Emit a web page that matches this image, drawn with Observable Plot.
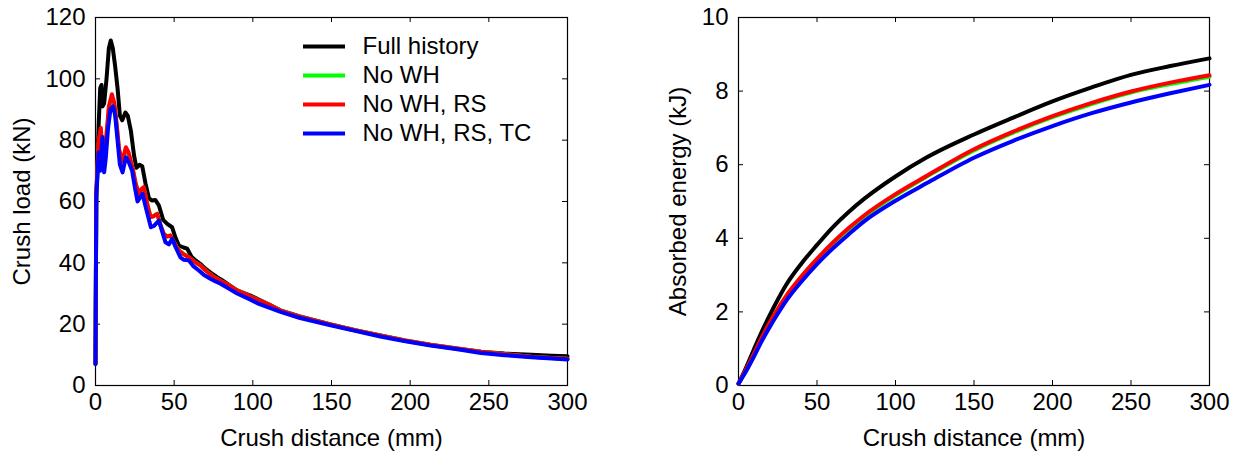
<!DOCTYPE html>
<html><head><meta charset="utf-8">
<script src="https://cdn.jsdelivr.net/npm/d3@7"></script>
<script src="https://cdn.jsdelivr.net/npm/@observablehq/plot@0.6"></script>
<style>
body{margin:0;background:#fff;}
#wrap{display:flex;width:1239px;height:455px;}
svg{font-family:"Liberation Sans",Arial,sans-serif;}
</style></head><body><div id="wrap"></div>
<script>
const seriesNames = ["Full history","No WH","No WH, RS","No WH, RS, TC"];
const seriesColors = ["#000000","#00ff00","#ff0000","#0000ff"];
const xTicks = [0,50,100,150,200,250,300];
const loadTicks = [0,20,40,60,80,100,120];
const energyTicks = [0,2,4,6,8,10];
const xLabel = "Crush distance (mm)";
const loadLabel = "Crush load (kN)";
const energyLabel = "Absorbed energy (kJ)";

// Crush load (kN) vs crush distance (mm)
const loadFullX = [0,0.5,1,2,3,3.8,4.5,5.5,7,8.5,9.7,11,12.5,14,15.5,17,19,20.5,22.5,24.5,26,28,29.7,31.8,34,36,38,40.3,43,45.6,48.7,51,53,56,58.3,61,63.6,67,70,74,77.3,80,83.7,90,98.5,110,117.6,130,149.4,165,181,197,213,230,245,260,277,290,300];
const loadFullY = [7,60,68,85,97,98,91,92,100,110,112.5,110,104,97,88,86.5,89,88,83,75,71,72,71.5,65.8,61,60.3,60.5,58.7,54,52.7,51.6,48,45.6,45,44.6,42,40.8,39.5,38,36.5,35.3,34.5,33.2,31,29.3,26.5,24.5,22.5,19.9,18,16.3,14.6,13.2,12,11,10.4,10,9.7,9.5];
const loadRSX = [0,0.5,1,2,3.4,4.5,5.5,7,8.5,10.4,12,13.5,15,17,19.3,21,23.5,25.5,27.5,29,30.7,33,35,37,39.2,41.5,43.4,45.5,47.7,50,53,56,59.3,63,66.8,70,75,80,85,90,98.5,110,117.6,130,149.4,165,181,197,213,230,245,260,277,290,300];
const loadWHY = [7,62,67,79,83,74.5,73.5,81,90,93.5,91,84,76.5,72.5,77,75.5,71,65.5,62.3,63.7,64.4,58.8,55,55.3,56,52,49.5,48.6,48.9,46.5,44.1,42.9,41.8,40.3,39.1,37.5,35.5,34,32.6,31,29,26.5,24.4,22.4,19.9,18,16.3,14.7,13.3,12.1,11,10.2,9.4,9,8.7];
const loadRSY = [7,63,68,80,84,75,74,82,91,95,92,85,77,73,77.7,76,71.2,66,62.5,64,64.7,59,54.9,55.2,56,52,49.4,48.6,48.9,46.5,44,42.8,41.8,40.3,39.1,37.5,35.5,34,32.6,31,29,26.5,24.4,22.4,19.9,18,16.3,14.7,13.3,12.1,11,10.2,9.4,9,8.7];
const loadTCX = [0,0.5,1,2,3,4.4,5.5,6.5,8,9.5,11.2,12.5,14,15.5,17.2,19.3,21,23.3,25,26.7,28,29.9,32,35.2,37,40.3,42.5,44.5,46.6,48.8,51,54,56,59.3,62,65.7,69,73,76,79.5,85,90,98.5,103,117.6,130,149.4,165,181,197,213,230,245,260,277,290,300];
const loadTCY = [7,62,66,76,70,81,69.5,74,84,90,91,88,80,72,69.5,74.4,73,70,64.7,60,61,62.5,58,51.6,52,53.8,50,46.7,46,47.8,45,41.8,41,40.8,39,37.5,36,34.8,34,33.2,31.5,30,28,26.8,24,22,19.6,17.8,16,14.4,13,11.8,10.6,9.9,9.2,8.8,8.5];

// Absorbed energy (kJ) vs crush distance (mm)
const energyX = [0,5,10,15,20,25,30,40,50,60,70,80,100,120,150,175,200,225,250,275,300];
const energyFull = [0.05,0.5,1.0,1.48,1.92,2.33,2.71,3.31,3.82,4.3,4.71,5.07,5.68,6.2,6.82,7.28,7.72,8.1,8.44,8.68,8.89];
const energyWH = [0.05,0.43,0.86,1.29,1.69,2.05,2.38,2.93,3.41,3.85,4.24,4.59,5.17,5.68,6.39,6.87,7.29,7.65,7.96,8.19,8.39];
const energyRS = [0.05,0.45,0.88,1.32,1.72,2.08,2.41,2.96,3.44,3.88,4.27,4.62,5.2,5.7,6.42,6.9,7.32,7.68,7.99,8.23,8.43];
const energyTC = [0.05,0.4,0.8,1.22,1.6,1.95,2.28,2.82,3.3,3.72,4.1,4.46,5.02,5.5,6.19,6.65,7.05,7.4,7.69,7.94,8.17];

const toRows = (xs, ys, s) => xs.map((x, i) => ({x, y: ys[i], s}));
const loadRows = [
  ...toRows(loadFullX, loadFullY, 0),
  ...toRows(loadRSX, loadWHY, 1),
  ...toRows(loadRSX, loadRSY, 2),
  ...toRows(loadTCX, loadTCY, 3)
];
const energyRows = [
  ...toRows(energyX, energyFull, 0),
  ...toRows(energyX, energyWH, 1),
  ...toRows(energyX, energyRS, 2),
  ...toRows(energyX, energyTC, 3)
];

const H = 455, MT = 17, MB = 70, FS = 24;

function panel({width, marginLeft, marginRight, yDomain, yTicks, rows, yLabel, yLabelDx, legend, curve}) {
  const innerW = width - marginLeft - marginRight;
  const innerH = H - MT - MB;
  const tl = 5;
  const marks = [
    Plot.frame({stroke: "#000", strokeWidth: 1.2}),
    Plot.tickX(xTicks, {x: d => d, insetTop: innerH - tl, stroke: "#000"}),
    Plot.tickX(xTicks, {x: d => d, insetBottom: innerH - tl, stroke: "#000"}),
    Plot.tickY(yTicks, {y: d => d, insetRight: innerW - tl, stroke: "#000"}),
    Plot.tickY(yTicks, {y: d => d, insetLeft: innerW - tl, stroke: "#000"}),
    Plot.axisX(xTicks, {tickSize: 0, tickPadding: 7, fontSize: FS, label: null, fill: "#000"}),
    Plot.axisY(yTicks, {tickSize: 0, tickPadding: 10, fontSize: FS, label: null, fill: "#000"}),
    ...[0, 1, 2, 3].map(k => Plot.line(rows.filter(r => r.s === k), {x: "x", y: "y", stroke: seriesColors[k], strokeWidth: 4, strokeLinejoin: "round", curve})),
    Plot.text([xLabel], {text: d => d, frameAnchor: "bottom", dy: 53, lineAnchor: "middle", textAnchor: "middle", fontSize: FS, fill: "#000"}),
    Plot.text([yLabel], {text: d => d, frameAnchor: "left", dx: yLabelDx, rotate: -90, lineAnchor: "middle", textAnchor: "middle", fontSize: FS, fill: "#000"})
  ];
  if (legend) {
    const xs = d3.scaleLinear([0, innerW], [0, 300]);
    const ys = d3.scaleLinear([0, innerH], [yDomain[1], yDomain[0]]);
    const lx1 = 208, lx2 = 250, tx = 267, ly0 = 29, step = 29;
    seriesNames.forEach((name, i) => {
      const yv = ys(ly0 + step * i);
      marks.push(Plot.ruleY([yv], {x1: xs(lx1), x2: xs(lx2), stroke: seriesColors[i], strokeWidth: 4}));
      marks.push(Plot.text([name], {text: d => d, x: xs(tx), y: yv, textAnchor: "start", fontSize: FS, fill: "#000"}));
    });
  }
  return Plot.plot({
    width, height: H, marginLeft, marginRight, marginTop: MT, marginBottom: MB,
    x: {domain: [0, 300]},
    y: {domain: yDomain},
    style: {fontFamily: '"Liberation Sans", Arial, sans-serif', background: "#fff", overflow: "visible"},
    marks
  });
}

const wrap = document.getElementById("wrap");
wrap.append(panel({width: 620, marginLeft: 95, marginRight: 53, yDomain: [0, 120], yTicks: loadTicks, rows: loadRows, yLabel: loadLabel, yLabelDx: -73, legend: true, curve: "linear"}));
wrap.append(panel({width: 619, marginLeft: 118, marginRight: 30, yDomain: [0, 10], yTicks: energyTicks, rows: energyRows, yLabel: energyLabel, yLabelDx: -60, legend: false, curve: "monotone-x"}));
</script></body></html>
